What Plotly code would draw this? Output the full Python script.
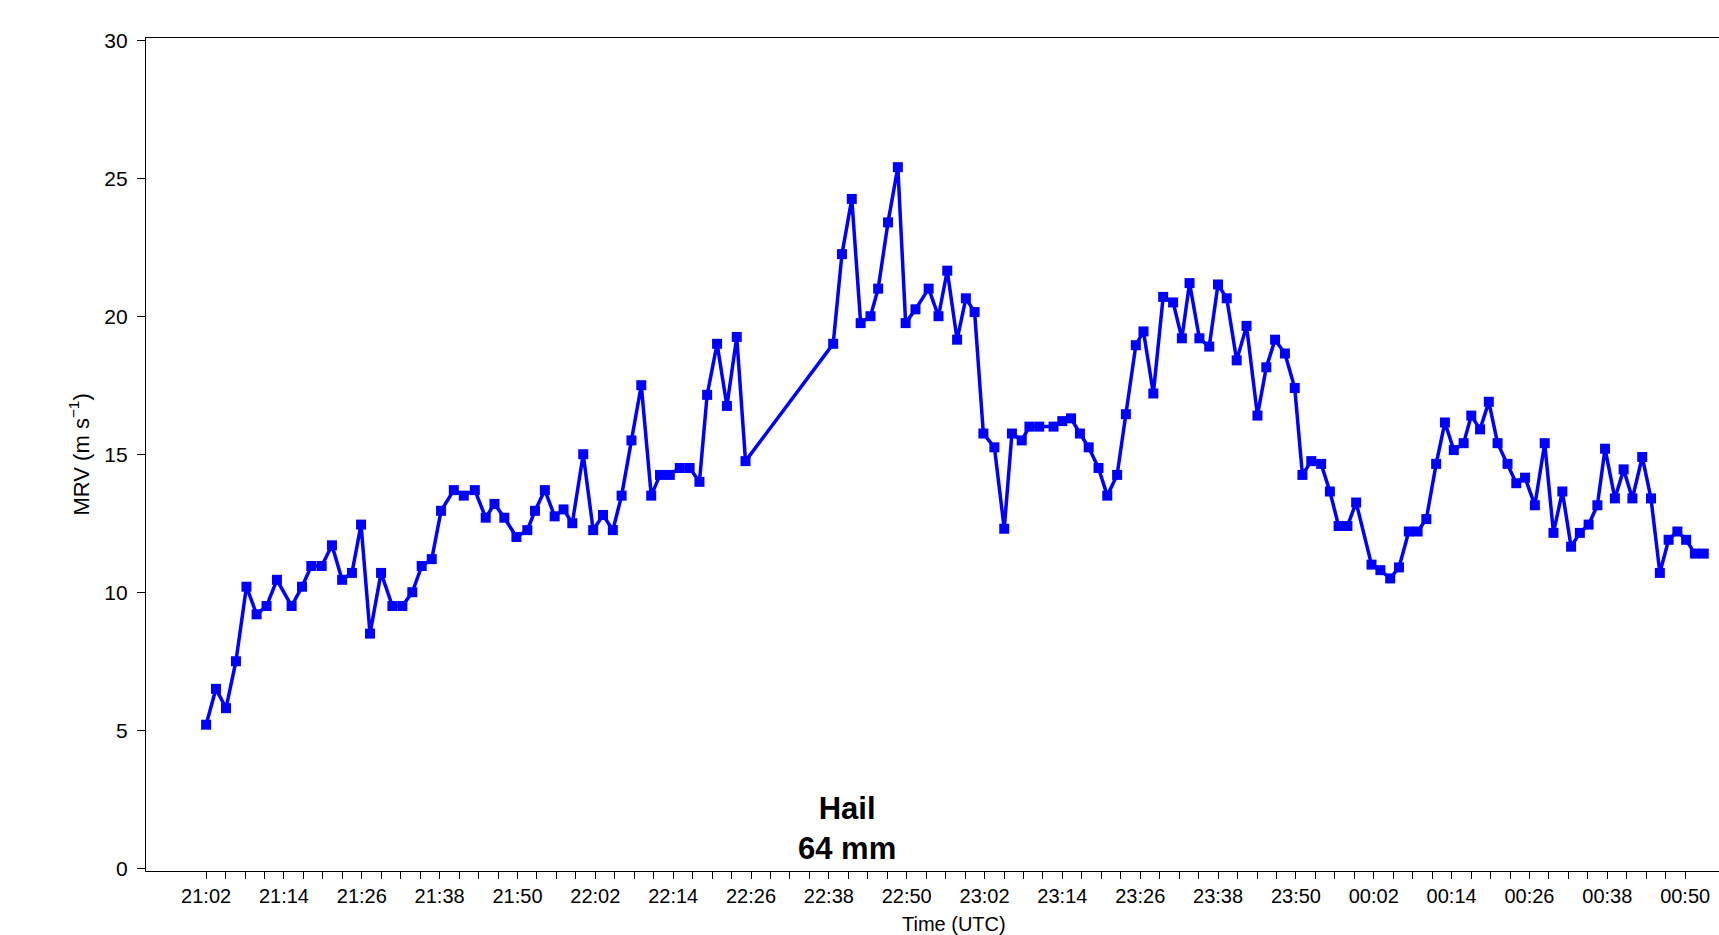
import pandas as pd
import plotly.graph_objects as go

# Scan times (UTC, HH:MM:SS) and mid-level rotational velocity (MRV, m/s)
times = [
    "21:02:00", "21:03:31", "21:05:04", "21:06:36", "21:08:13", "21:09:47", "21:11:19", "21:12:55",
    "21:15:11", "21:16:47", "21:18:13", "21:19:49", "21:21:24", "21:22:58", "21:24:29", "21:25:53",
    "21:27:16", "21:28:58", "21:30:43", "21:32:15", "21:33:47", "21:35:14", "21:36:47", "21:38:13",
    "21:40:11", "21:41:43", "21:43:25", "21:45:06", "21:46:27", "21:47:58", "21:49:50", "21:51:31",
    "21:52:42", "21:54:13", "21:55:44", "21:57:06", "21:58:27", "22:00:08", "22:01:40", "22:03:11",
    "22:04:42", "22:06:03", "22:07:34", "22:09:05", "22:10:37", "22:11:58", "22:13:29", "22:15:01",
    "22:16:32", "22:18:03", "22:19:14", "22:20:46", "22:22:17", "22:23:48", "22:25:09",
    "22:38:40", "22:40:01", "22:41:32", "22:42:54", "22:44:25", "22:45:36", "22:47:07", "22:48:38",
    "22:49:50", "22:51:21", "22:53:23", "22:54:54", "22:56:15", "22:57:46", "22:59:07", "23:00:28",
    "23:01:49", "23:03:31", "23:05:02", "23:06:13", "23:07:44", "23:08:55", "23:10:26", "23:12:38",
    "23:13:59", "23:15:20", "23:16:42", "23:18:03", "23:19:34", "23:20:55", "23:22:26", "23:23:47",
    "23:25:19", "23:26:30", "23:28:01", "23:29:32", "23:31:04", "23:32:25", "23:33:36", "23:35:07",
    "23:36:38", "23:37:59", "23:39:20", "23:40:52", "23:42:23", "23:44:04", "23:45:26", "23:46:47",
    "23:48:18", "23:49:49", "23:51:00", "23:52:22", "23:53:53", "23:55:14", "23:56:35", "23:57:56",
    "23:59:17", "00:01:39", "00:03:01", "00:04:32", "00:05:53", "00:07:24", "00:08:45", "00:10:06",
    "00:11:37", "00:12:58", "00:14:20", "00:15:51", "00:17:02", "00:18:23", "00:19:44", "00:21:05",
    "00:22:37", "00:23:58", "00:25:19", "00:26:50", "00:28:21", "00:29:42", "00:31:04", "00:32:25",
    "00:33:46", "00:35:07", "00:36:28", "00:37:39", "00:39:10", "00:40:31", "00:41:52", "00:43:23",
    "00:44:44", "00:46:06", "00:47:27", "00:48:48", "00:50:09", "00:51:30", "00:52:52",
]

mrv = [
    5.2, 6.5, 5.8, 7.5, 10.2, 9.2, 9.5, 10.45,
    9.5, 10.2, 10.95, 10.95, 11.7, 10.45, 10.7, 12.45,
    8.5, 10.7, 9.5, 9.5, 10.0, 10.95, 11.2, 12.95,
    13.7, 13.5, 13.7, 12.7, 13.2, 12.7, 12.0, 12.25,
    12.95, 13.7, 12.75, 13.0, 12.5, 15.0, 12.25, 12.8,
    12.25, 13.5, 15.5, 17.5, 13.5, 14.25, 14.25, 14.5,
    14.5, 14.0, 17.15, 19.0, 16.75, 19.25, 14.75,
    19.0, 22.25, 24.25, 19.75, 20.0, 21.0, 23.4, 25.4,
    19.75, 20.25, 21.0, 20.0, 21.65, 19.15, 20.65, 20.15,
    15.75, 15.25, 12.3, 15.75, 15.5, 16.0, 16.0, 16.0,
    16.2, 16.3, 15.75, 15.25, 14.5, 13.5, 14.25, 16.45,
    18.95, 19.45, 17.2, 20.7, 20.5, 19.2, 21.2, 19.2,
    18.9, 21.15, 20.65, 18.4, 19.65, 16.4, 18.15, 19.15,
    18.65, 17.4, 14.25, 14.75, 14.65, 13.65, 12.4, 12.4,
    13.25, 11.0, 10.8, 10.5, 10.9, 12.2, 12.2, 12.65,
    14.65, 16.15, 15.15, 15.4, 16.4, 15.9, 16.9, 15.4,
    14.65, 13.95, 14.15, 13.15, 15.4, 12.15, 13.65, 11.65,
    12.15, 12.45, 13.15, 15.2, 13.4, 14.45, 13.4, 14.9,
    13.4, 10.7, 11.9, 12.2, 11.9, 11.4, 11.4,
]

tick_labels = [
    "21:02", "21:14", "21:26", "21:38", "21:50", "22:02", "22:14", "22:26", "22:38", "22:50",
    "23:02", "23:14", "23:26", "23:38", "23:50", "00:02", "00:14", "00:26", "00:38", "00:50",
]
y_ticks = [0, 5, 10, 15, 20, 25, 30]

hail_time = "22:40:45"
hail_y = 1.43
x_window = ["20:52:44", "00:55:13"]


def to_dt(s):
    if s.count(":") == 1:
        s = s + ":00"
    day = "2000-01-02" if int(s.split(":")[0]) < 12 else "2000-01-01"
    return pd.Timestamp(f"{day} {s}")


x = [to_dt(t) for t in times]
major = [to_dt(t) for t in tick_labels]
all_ticks = list(pd.date_range(major[0], major[-1], freq="3min"))
ticktext = [ts.strftime("%H:%M") if ts in major else "" for ts in all_ticks]

FONT = "Liberation Sans, Arial, Helvetica, sans-serif"

fig = go.Figure()
fig.add_trace(go.Scatter(
    x=x, y=mrv, mode="lines+markers",
    line=dict(color="#0000FF", width=3.5),
    marker=dict(symbol="square", size=10, color="#0000FF"),
    hoverinfo="x+y",
))

fig.update_layout(
    width=1719, height=935,
    margin=dict(l=146, r=0, t=38, b=64),
    plot_bgcolor="white", paper_bgcolor="white",
    showlegend=False,
    font=dict(family=FONT, color="black", size=20),
)

fig.update_xaxes(
    range=[to_dt(x_window[0]), to_dt(x_window[1])],
    tickmode="array", tickvals=all_ticks, ticktext=ticktext,
    ticks="outside", ticklen=7, tickwidth=1, tickcolor="black",
    tickfont=dict(size=20, family=FONT, color="black"),
    showline=True, linecolor="black", linewidth=1.3, mirror=True,
    showgrid=False, zeroline=False,
)
fig.update_yaxes(
    range=[-0.1, 30.08],
    tickmode="array", tickvals=y_ticks,
    ticks="outside", ticklen=8, tickwidth=1, tickcolor="black",
    tickfont=dict(size=21, family=FONT, color="black"),
    ticklabelstandoff=5,
    showline=True, linecolor="black", linewidth=1.3, mirror=False,
    showgrid=False, zeroline=False,
)

fig.add_annotation(
    x=-0.0426, y=0.5, xref="paper", yref="paper",
    text="MRV (m s<sup>−1</sup>)", textangle=-90, showarrow=False,
    font=dict(size=22, family=FONT, color="black"),
    xanchor="center", yanchor="middle",
)
fig.add_annotation(
    x=to_dt(hail_time), y=hail_y, xref="x", yref="y",
    text="<b>Hail<br>64 mm</b>", showarrow=False,
    font=dict(size=31, family=FONT, color="black"),
    xanchor="center", yanchor="middle",
)
fig.add_annotation(
    x=0.5137, y=-0.0785, xref="paper", yref="paper",
    text="Time (UTC)", showarrow=False,
    font=dict(size=20, family=FONT, color="black"),
    xanchor="center", yanchor="bottom", borderpad=0,
)

fig.write_html(
    "out.html",
    config={"displayModeBar": False},
    post_script="document.body.style.margin='0';",
)
